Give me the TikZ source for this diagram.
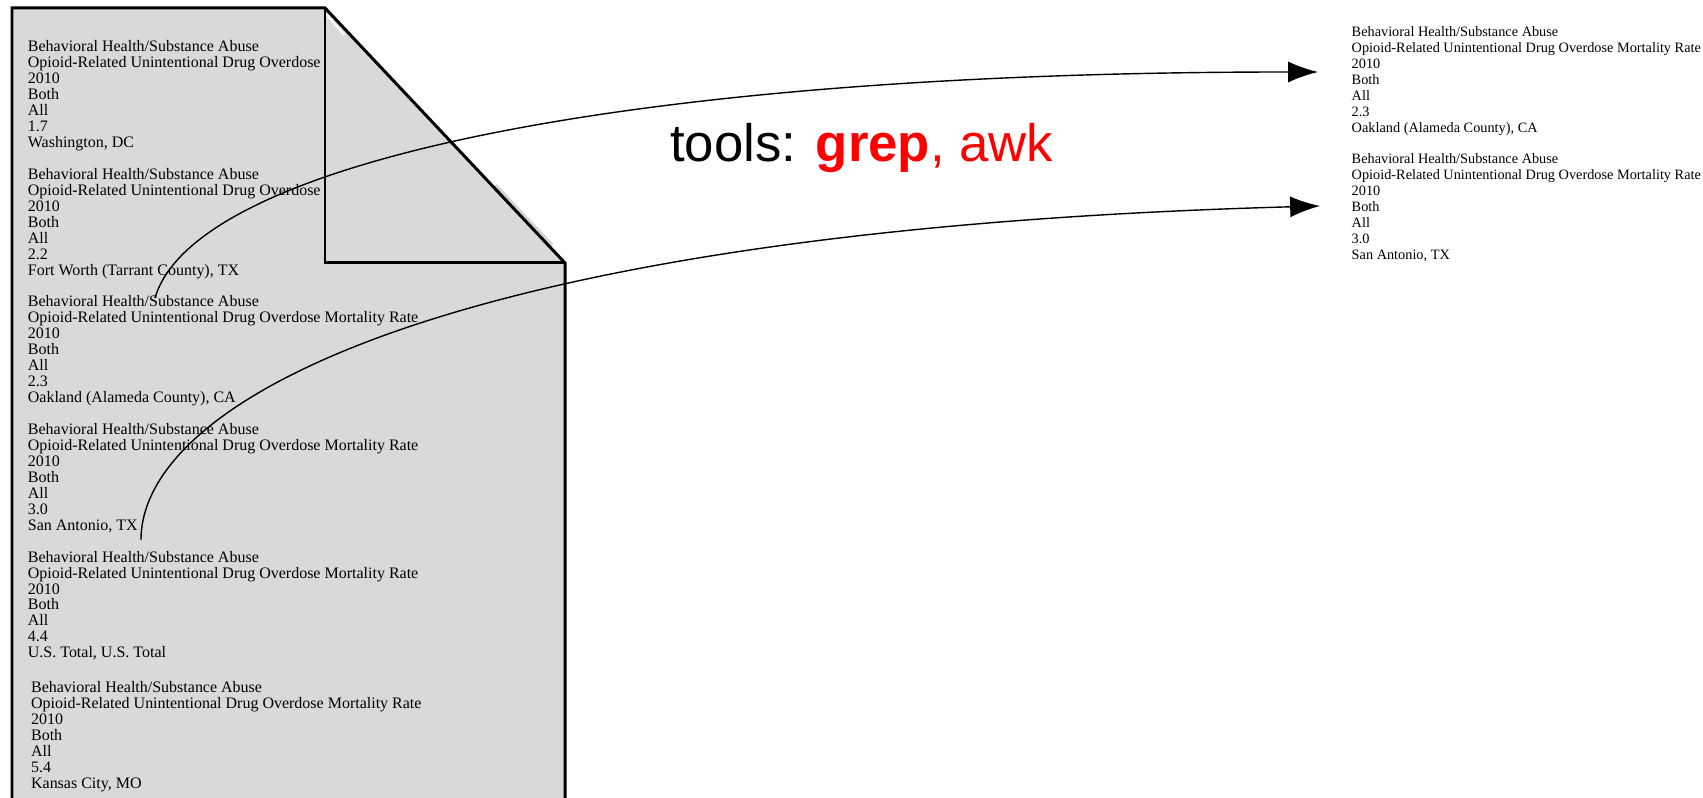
\documentclass[tikz,border=0pt]{standalone}
\usepackage{fontspec}
\setmainfont{Liberation Serif}
\newfontfamily\toolfont{Liberation Sans}
\usepackage{xcolor}
\usetikzlibrary{arrows.meta}

% one record of the mortality file
\newcommand{\mortrow}[2]{Behavioral Health/Substance Abuse\\
  Opioid-Related Unintentional Drug Overdose Mortality Rate\\
  2010\\ Both\\ All\\ #1\\ #2}

\begin{document}
\begin{tikzpicture}[>={Latex[length=8.5pt,width=6pt]},
    rec/.style={anchor=north west,inner sep=0pt,align=left,
      font=\fontsize{4.55}{4.54}\selectfont},
    hit/.style={rec,font=\fontsize{4.07}{4.52}\selectfont},
    edge/.style={line width=0.85pt},
    flow/.style={->,line width=0.4pt}]
    \useasboundingbox (0,0) rectangle (17.03,-7.98);
    \clip (0,0) rectangle (17.03,-7.98);
    % --- the input file, a page with a folded corner
    \fill[gray!30] (0.12,-0.08) -- (3.25,-0.08) -- (5.65,-2.63) -- (5.65,-8.2) -- (0.12,-8.2) -- cycle;
    \begin{scope}
      \clip (0.12,-0.08) -- (3.25,-0.08) -- (5.65,-2.63) -- (5.65,-8.2) -- (0.12,-8.2) -- cycle;
      \node[rec] (dc) at (0.272,-0.399) {\mortrow{1.7}{Washington, DC}};
      \node[rec] (fw) at (0.272,-1.675) {\mortrow{2.2}{Fort Worth (Tarrant County), TX}};
      \node[rec] (oak) at (0.272,-2.951) {\mortrow{2.3}{Oakland (Alameda County), CA}};
      \node[rec] (sa) at (0.272,-4.227) {\mortrow{3.0}{San Antonio, TX}};
      \node[rec] (us) at (0.272,-5.503) {\mortrow{4.4}{U.S. Total, U.S. Total}};
      \node[rec] (kc) at (0.304,-6.811) {\mortrow{5.4}{Kansas City, MO}};
    \end{scope}
    \fill[gray!30] (3.25,-0.08) -- (5.65,-2.63) -- (3.25,-2.63) -- cycle;
    % light edges of the fold
    \draw[white,line width=0.6pt] (3.27,-0.15) -- (3.44,-0.35);
    \draw[gray!35,line width=0.8pt] (4.956,-1.85) -- (5.521,-2.45);
    \draw[edge] (0.12,-8.2) -- (0.12,-0.08) -- (3.25,-0.08) -- (5.65,-2.63) -- (5.65,-8.2);
    \draw[edge] (3.25,-0.08) -- (3.25,-2.63) -- (5.65,-2.63);
    % --- the matching records
    \node[hit] (oakOut) at (13.51,-0.262) {\mortrow{2.3}{Oakland (Alameda County), CA}};
    \node[hit] (saOut) at (13.51,-1.533) {\mortrow{3.0}{San Antonio, TX}};
    \node[anchor=base,inner sep=0pt,font=\toolfont\fontsize{15.0}{18}\selectfont] (tools)
      at (8.617,-1.617) {tools: \textcolor{red}{\textbf{grep}, awk}};
    % --- arrows from the source records
    \coordinate (oakSrc) at (1.55,-2.98);
    \coordinate (oakDst) at (13.18,-0.72);
    \coordinate (saSrc) at (1.41,-5.40);
    \coordinate (saDst) at (13.20,-2.06);
    \draw[flow] (oakSrc) .. controls +(0.392,1.344) and +(-7.0,0) .. (oakDst);
    \draw[flow] (saSrc) .. controls +(0,1.40) and +(-8.70,-0.24) .. (saDst);
  \end{tikzpicture}
\end{document}
